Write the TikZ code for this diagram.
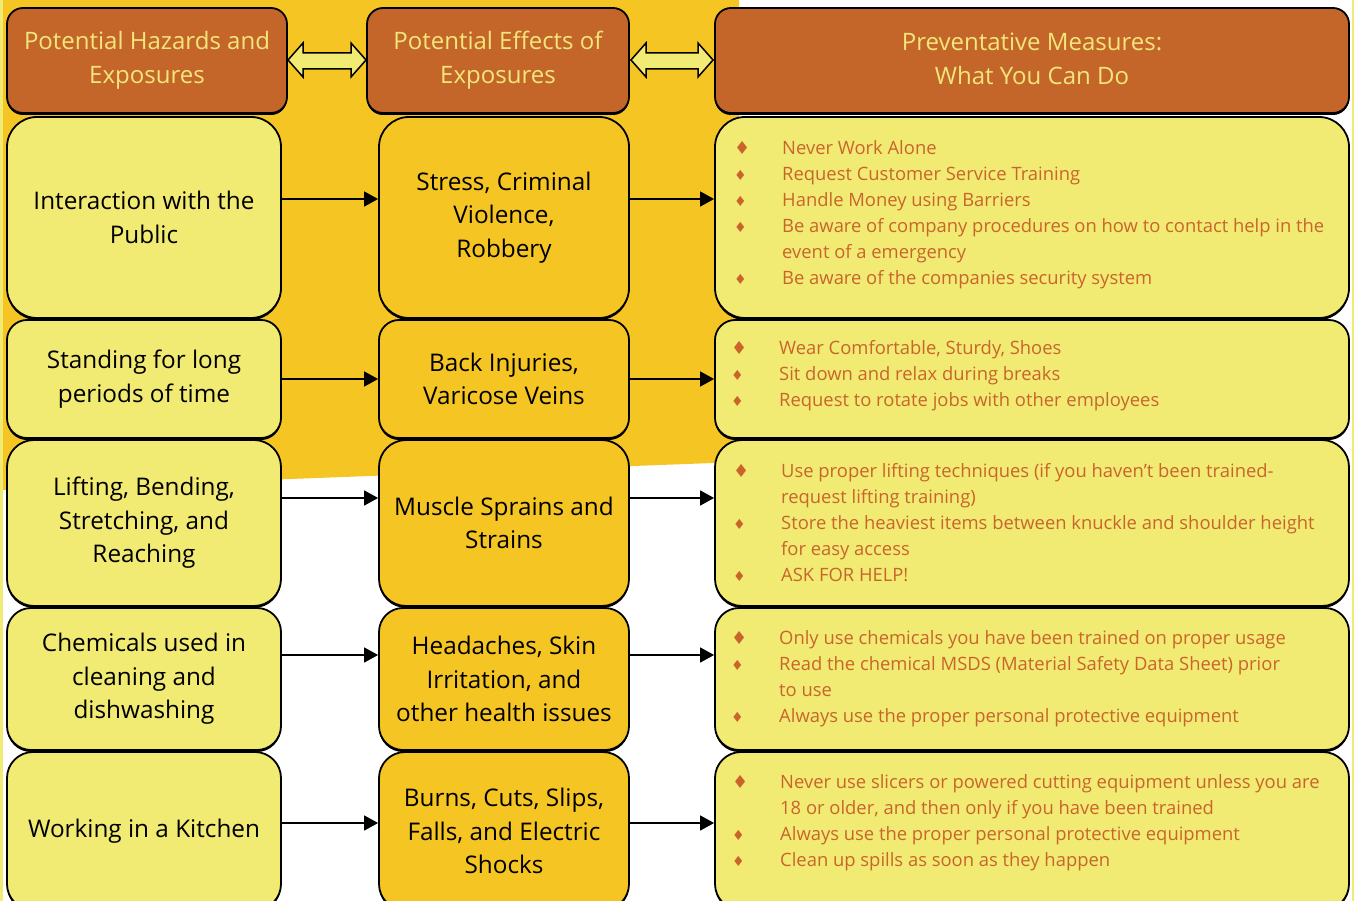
\documentclass[tikz,border=0pt]{standalone}
\usepackage{fontspec}
\setmainfont{Open Sans}
\newfontfamily\symf{DejaVu Sans}
\usetikzlibrary{arrows.meta,shadows}
\definecolor{gold}{HTML}{F5C523}
\definecolor{lemon}{HTML}{F1EB74}
\definecolor{rust}{HTML}{C4662A}
\definecolor{hdrtext}{HTML}{F3E67A}
\definecolor{listtext}{HTML}{C9652B}
\newcommand\bl{\makebox[45pt][l]{\hspace*{-3pt}\symf\fontsize{14}{14}\selectfont\char"2666}}
\newcommand\blb{\makebox[45pt][l]{\hspace*{-3pt}\symf\fontsize{18}{18}\selectfont\char"2666}}
\newcommand\ind{\hspace*{45pt}}
\tikzset{
  box/.style={draw=black, line width=1.8pt, align=center, inner sep=0pt,
    drop shadow={shadow xshift=0pt, shadow yshift=-2pt, fill=black, opacity=1}},
  hdr/.style={box, fill=rust, text=hdrtext, font=\fontsize{24}{34}\selectfont},
  ca/.style={box, fill=lemon, text=black, font=\fontsize{24.3}{33.5}\selectfont},
  cb/.style={box, fill=gold, text=black, font=\fontsize{24.3}{33.5}\selectfont},
  cc/.style={box, fill=lemon},
  lst/.style={anchor=base west, inner sep=0pt, text=listtext, font=\fontsize{18.4}{26}\selectfont},
  conn/.style={line width=1.5pt, -{Triangle[length=14pt,width=15pt]}},
  dbl/.style={draw=black, line width=1.5pt, fill=lemon, line join=miter},
}
\begin{document}
\begin{tikzpicture}[x=1pt,y=-1pt]
\useasboundingbox (0,0) rectangle (1354,901);
\clip (0,0) rectangle (1354,901);
\fill[white] (0,0) rectangle (1354,901);
\fill[gold] (0,0) -- (739,0) -- (739,462) -- (0,490) -- cycle;
\fill[lemon] (0,0) rectangle (3,901);
\fill[lemon] (1351.5,0) rectangle (1354,901);

% headers
\node[hdr, rounded corners=16pt, minimum width=280pt, minimum height=105pt] (h1) at (147,60.5) {Potential Hazards and\\Exposures};
\node[hdr, rounded corners=16pt, minimum width=262pt, minimum height=105pt] (h2) at (498,60.5) {Potential Effects of\\Exposures};
\node[hdr, rounded corners=16pt, minimum width=634pt, minimum height=105pt] (h3) at (1032,60.5) {\raisebox{2pt}{\begin{tabular}{@{}c@{}}Preventative Measures:\\What You Can Do\end{tabular}}};

% double arrows
\draw[dbl] (288,60) -- (303,43) -- (303,53) -- (351,53) -- (351,43) -- (366,60) -- (351,77) -- (351,69) -- (303,69) -- (303,77) -- cycle;
\draw[dbl] (631,60) -- (646,43) -- (646,53) -- (698,53) -- (698,43) -- (713,60) -- (698,77) -- (698,69) -- (646,69) -- (646,77) -- cycle;

% row 1
\node[ca, rounded corners=30pt, minimum width=274pt, minimum height=201pt] (a1) at (144,217.5) {Interaction with the\\Public};
\node[cb, rounded corners=30pt, minimum width=250pt, minimum height=201pt] (b1) at (504,217.5) {Stress, Criminal\\Violence,\\Robbery};
\node[cc, rounded corners=30pt, minimum width=634pt, minimum height=201pt] (c1) at (1032,217.5) {};
% row 2
\node[ca, rounded corners=20pt, minimum width=274pt, minimum height=118pt] (a2) at (144,379) {Standing for long\\periods of time};
\node[cb, rounded corners=20pt, minimum width=250pt, minimum height=118pt] (b2) at (504,379) {Back Injuries,\\Varicose Veins};
\node[cc, rounded corners=20pt, minimum width=634pt, minimum height=118pt] (c2) at (1032,379) {};
% row 3
\node[ca, rounded corners=27pt, minimum width=274pt, minimum height=166pt] (a3) at (144,523) {Lifting, Bending,\\Stretching, and\\Reaching};
\node[cb, rounded corners=27pt, minimum width=250pt, minimum height=166pt] (b3) at (504,523) {Muscle Sprains and\\Strains};
\node[cc, rounded corners=27pt, minimum width=634pt, minimum height=166pt] (c3) at (1032,523) {};
% row 4
\node[ca, rounded corners=24pt, minimum width=274pt, minimum height=142pt] (a4) at (144,679) {Chemicals used in\\cleaning and\\dishwashing};
\node[cb, rounded corners=24pt, minimum width=250pt, minimum height=142pt] (b4) at (504,679) {Headaches, Skin\\Irritation, and\\other health issues};
\node[cc, rounded corners=24pt, minimum width=634pt, minimum height=142pt] (c4) at (1032,679) {};
% row 5
\node[ca, rounded corners=26pt, minimum width=274pt, minimum height=158pt] (a5) at (144,831) {Working in a Kitchen};
\node[cb, rounded corners=26pt, minimum width=250pt, minimum height=158pt] (b5) at (504,831) {Burns, Cuts, Slips,\\Falls, and Electric\\Shocks};
\node[cc, rounded corners=26pt, minimum width=634pt, minimum height=158pt] (c5) at (1032,831) {};

% lists
\node[lst] (l1) at (737,155) {\begin{tabular}[t]{@{}l@{}}
\blb Never Work Alone\\
\bl Request Customer Service Training\\
\bl Handle Money using Barriers\\
\bl Be aware of company procedures on how to contact help in the\\
\ind event of a emergency\\
\bl Be aware of the companies security system
\end{tabular}};
\node[lst] (l2) at (734,354) {\begin{tabular}[t]{@{}l@{}}
\blb Wear Comfortable, Sturdy, Shoes\\
\bl Sit down and relax during breaks\\
\bl Request to rotate jobs with other employees
\end{tabular}};
\node[lst] (l3) at (736,477) {\begin{tabular}[t]{@{}l@{}}
\blb Use proper lifting techniques (if you haven’t been trained-\\
\ind request lifting training)\\
\bl Store the heaviest items between knuckle and shoulder height\\
\ind for easy access\\
\bl ASK FOR HELP!
\end{tabular}};
\node[lst] (l4) at (734,644) {\begin{tabular}[t]{@{}l@{}}
\blb Only use chemicals you have been trained on proper usage\\
\bl Read the chemical MSDS (Material Safety Data Sheet) prior\\
\ind to use\\
\bl Always use the proper personal protective equipment
\end{tabular}};
\node[lst] (l5) at (735,788) {\begin{tabular}[t]{@{}l@{}}
\blb Never use slicers or powered cutting equipment unless you are\\
\ind 18 or older, and then only if you have been trained\\
\bl Always use the proper personal protective equipment\\
\bl Clean up spills as soon as they happen
\end{tabular}};

% connectors
\coordinate (y1) at (0,199);
\coordinate (y2) at (0,379);
\coordinate (y3) at (0,498);
\coordinate (y4) at (0,655);
\coordinate (y5) at (0,823);
\foreach \i in {1,...,5}{
  \draw[conn] (a\i.east |- y\i) -- (b\i.west |- y\i);
  \draw[conn] (b\i.east |- y\i) -- (c\i.west |- y\i);
}
\end{tikzpicture}
\end{document}
